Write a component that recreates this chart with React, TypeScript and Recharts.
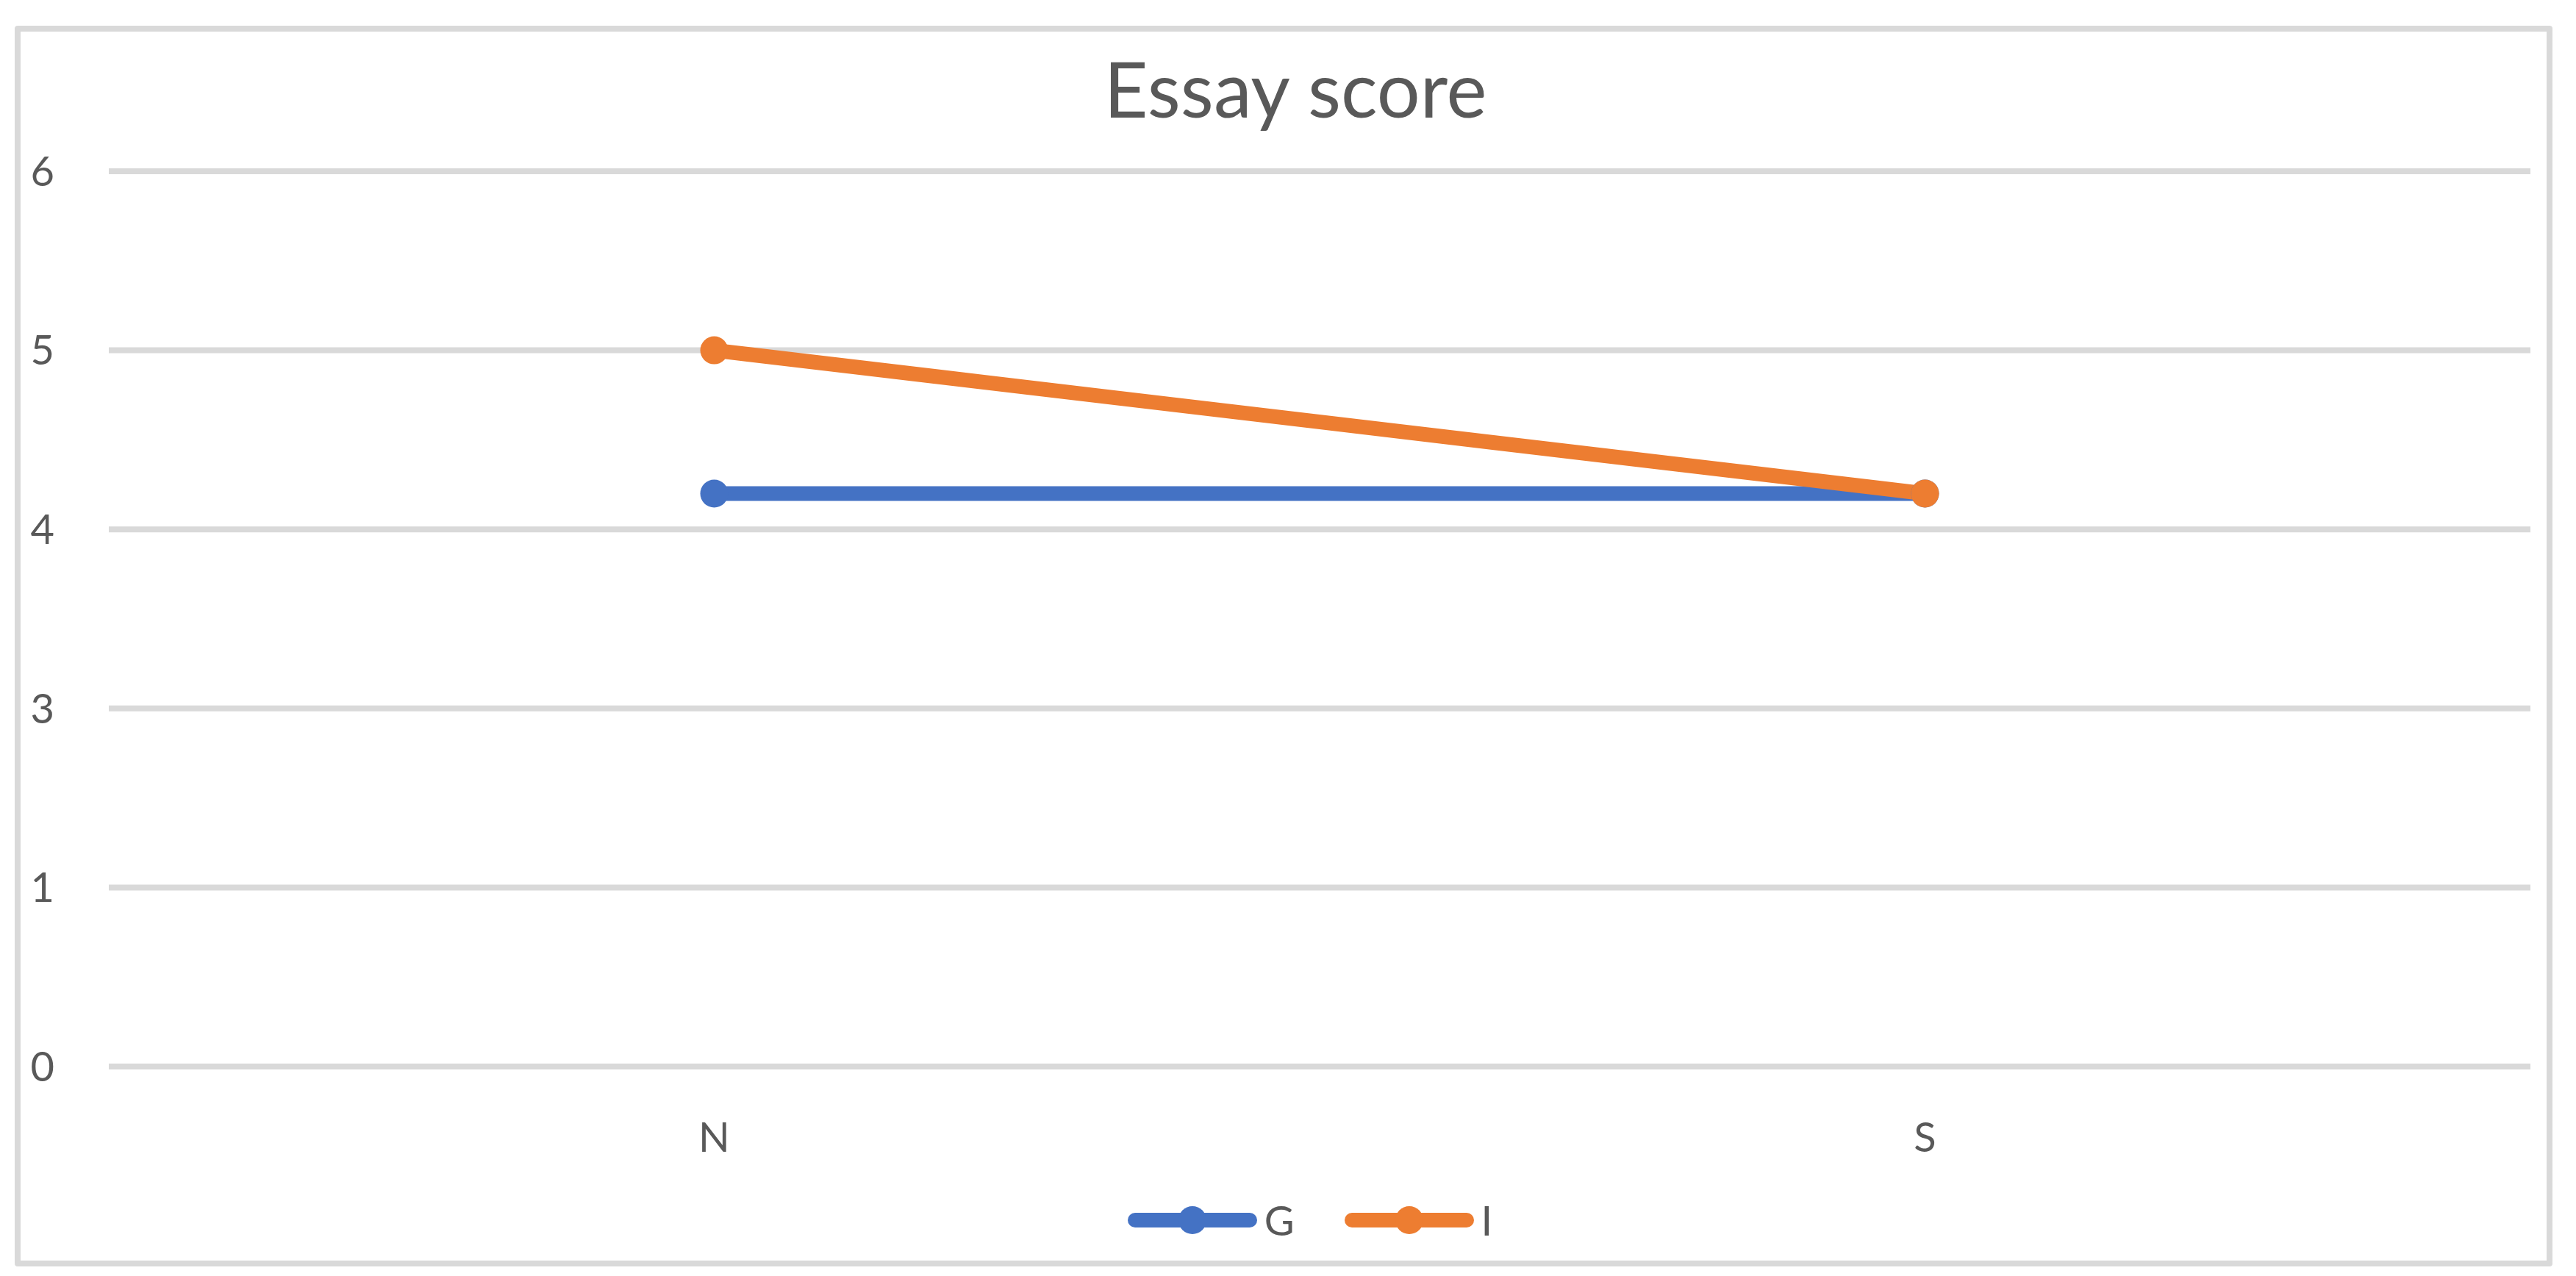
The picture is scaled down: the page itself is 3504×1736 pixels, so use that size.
import React from "react";
import { LineChart, Line, XAxis, YAxis, CartesianGrid, Legend } from "recharts";

const groups = ["N", "S"];
const gScores = [4.2, 4.2];
const iScores = [5.0, 4.2];
// gridline positions on the value axis and the text printed beside each one
const yTicks = [1, 2, 3, 4, 5, 6];
const yTickLabels = ["0", "1", "3", "4", "5", "6"];

const data = groups.map((name, i) => ({ name, G: gScores[i], I: iScores[i] }));

const FONT = "Lato, 'Open Sans', sans-serif";
const TEXT = "#595959";
const BLUE = "#4472c4";
const ORANGE = "#ed7d31";

function LegendBox() {
  const items = [
    { label: "G", color: BLUE },
    { label: "I", color: ORANGE },
  ];
  return (
    <div style={{ display: "flex", justifyContent: "center", alignItems: "center", height: 60, paddingLeft: 184, paddingRight: 62 }}>
      {items.map((it) => (
        <div key={it.label} style={{ display: "flex", alignItems: "center", margin: "0 34px" }}>
          <svg width={176} height={44}>
            <line x1={10} y1={22} x2={166} y2={22} stroke={it.color} strokeWidth={20} strokeLinecap="round" />
            <circle cx={88} cy={22} r={19} fill={it.color} />
          </svg>
          <span style={{ fontFamily: FONT, fontSize: 56, color: TEXT, marginLeft: 10, lineHeight: 1 }}>{it.label}</span>
        </div>
      ))}
    </div>
  );
}

export default function App() {
  return (
    <div style={{ position: "absolute", left: 0, top: 0, width: 3504, height: 1736, background: "#fff" }}>
      <div
        style={{
          position: "absolute",
          left: 20,
          top: 35,
          width: 3436,
          height: 1672,
          border: "8px solid #d9d9d9",
          borderRadius: 4,
        }}
      />
      <div
        style={{
          position: "absolute",
          left: 0,
          width: 3504,
          top: 58,
          textAlign: "center",
          paddingLeft: 20,
          boxSizing: "border-box",
          fontFamily: FONT,
          fontSize: 104,
          color: TEXT,
          lineHeight: 1.2,
        }}
      >
        Essay score
      </div>
      <div style={{ position: "absolute", left: 0, top: 0 }}>
        <LineChart width={3504} height={1736} data={data} margin={{ top: 233, right: 62, bottom: 46, left: 0 }}>
          <CartesianGrid vertical={false} stroke="#d9d9d9" strokeWidth={8} />
          <XAxis
            dataKey="name"
            scale="band"
            axisLine={false}
            tickLine={false}
            tickSize={0}
            tickMargin={76}
            height={179}
            tick={{ fontFamily: FONT, fontSize: 56, fill: TEXT }}
          />
          <YAxis
            domain={[1, 6]}
            ticks={yTicks}
            tickFormatter={(v: number) => yTickLabels[yTicks.indexOf(v)] ?? String(v)}
            axisLine={false}
            tickLine={false}
            tickSize={0}
            tickMargin={74}
            width={148}
            tick={{ fontFamily: FONT, fontSize: 56, fill: TEXT }}
          />
          <Legend verticalAlign="bottom" align="center" content={() => <LegendBox />} />
          <Line dataKey="G" stroke={BLUE} strokeWidth={20} dot={{ r: 19, fill: BLUE, stroke: "none" }} activeDot={false} isAnimationActive={false} />
          <Line dataKey="I" stroke={ORANGE} strokeWidth={20} dot={{ r: 19, fill: ORANGE, stroke: "none" }} activeDot={false} isAnimationActive={false} />
        </LineChart>
      </div>
    </div>
  );
}
